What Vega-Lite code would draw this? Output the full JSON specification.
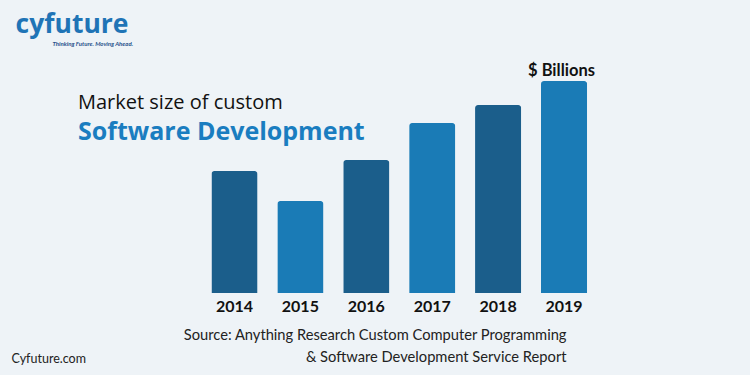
{
  "$schema": "https://vega.github.io/schema/vega-lite/v6.json",
  "width": 395.5,
  "height": 233,
  "autosize": {"type": "none"},
  "padding": {"left": 201.5, "top": 60, "right": 153, "bottom": 82},
  "background": "#eef3f7",
  "config": {"view": {"stroke": null}, "font": "Lato"},
  "title": {
    "text": "Market size of custom",
    "subtitle": "Software Development",
    "anchor": "start",
    "frame": "group",
    "orient": "top",
    "dx": -123.5,
    "dy": 138,
    "font": "Open Sans",
    "fontSize": 20,
    "fontWeight": "normal",
    "color": "#111111",
    "subtitleFont": "Open Sans",
    "subtitleFontSize": 25,
    "subtitleFontWeight": "bold",
    "subtitleColor": "#1a7dc0",
    "subtitlePadding": 7
  },
  "data": {
    "values": [
      {"year": "2014", "value": 12.2},
      {"year": "2015", "value": 9.2},
      {"year": "2016", "value": 13.3},
      {"year": "2017", "value": 17.0},
      {"year": "2018", "value": 18.8},
      {"year": "2019", "value": 21.2}
    ]
  },
  "layer": [
    {
      "mark": {"type": "bar", "cornerRadiusTopLeft": 3, "cornerRadiusTopRight": 3},
      "encoding": {
        "x": {
          "field": "year",
          "type": "nominal",
          "scale": {"paddingInner": 0.3, "paddingOuter": 0.15},
          "axis": {
            "orient": "bottom",
            "domain": false,
            "ticks": false,
            "tickSize": 0,
            "labelPadding": 5,
            "labelFontSize": 16,
            "labelFont": "Lato",
            "labelFontWeight": "bold",
            "labelColor": "#111111",
            "labelAngle": 0,
            "title": ["Source: Anything Research Custom Computer Programming", "& Software Development Service Report"],
            "titleX": 364.5,
            "titleY": 46,
            "titleAlign": "right",
            "titleBaseline": "alphabetic",
            "titleFont": "Lato",
            "titleFontSize": 14.7,
            "titleFontWeight": "normal",
            "titleColor": "#222222",
            "titleLineHeight": 22
          }
        },
        "y": {
          "field": "value",
          "type": "quantitative",
          "scale": {"domain": [0, 23.3], "nice": false},
          "axis": {
            "orient": "right",
            "grid": false,
            "labels": false,
            "ticks": false,
            "domain": false,
            "title": "$ Billions",
            "titleAngle": 0,
            "titleX": -36,
            "titleY": 15,
            "titleAlign": "center",
            "titleBaseline": "alphabetic",
            "titleFont": "Lato",
            "titleFontSize": 16.5,
            "titleFontWeight": "bold",
            "titleColor": "#111111"
          }
        },
        "color": {
          "field": "year",
          "type": "nominal",
          "scale": {"range": ["#1b5e8b", "#1a7bb6", "#1b5e8b", "#1a7bb6", "#1b5e8b", "#1a7bb6"]},
          "legend": null
        }
      }
    },
    {
      "mark": {"type": "bar", "opacity": 0},
      "encoding": {
        "x": {
          "field": "year",
          "type": "nominal",
          "axis": {
            "orient": "top",
            "domain": false,
            "ticks": false,
            "labels": false,
            "title": "cyfuture",
            "titleX": -186.5,
            "titleY": -28,
            "titleAlign": "left",
            "titleBaseline": "alphabetic",
            "titleFont": "Open Sans",
            "titleFontSize": 26.5,
            "titleFontWeight": "bold",
            "titleColor": "#1f74b6"
          }
        },
        "y": {
          "field": "value",
          "type": "quantitative",
          "axis": {
            "orient": "left",
            "grid": false,
            "labels": false,
            "ticks": false,
            "domain": false,
            "title": "Cyfuture.com",
            "titleAngle": 0,
            "titleX": -190.5,
            "titleY": 302,
            "titleAlign": "left",
            "titleBaseline": "alphabetic",
            "titleFont": "Lato",
            "titleFontSize": 12.5,
            "titleFontWeight": "normal",
            "titleColor": "#222222"
          }
        }
      }
    },
    {
      "mark": {"type": "bar", "opacity": 0},
      "encoding": {
        "x": {
          "field": "year",
          "type": "nominal",
          "axis": {
            "orient": "top",
            "domain": false,
            "ticks": false,
            "labels": false,
            "title": "Thinking Future. Moving Ahead.",
            "titleX": -149.5,
            "titleY": -15,
            "titleAlign": "left",
            "titleBaseline": "alphabetic",
            "titleFont": "Lato",
            "titleFontSize": 6,
            "titleFontWeight": "bold",
            "titleFontStyle": "italic",
            "titleColor": "#1f4f8a"
          }
        },
        "y": {"field": "value", "type": "quantitative", "axis": null}
      }
    }
  ],
  "resolve": {"axis": {"x": "independent", "y": "independent"}}
}
